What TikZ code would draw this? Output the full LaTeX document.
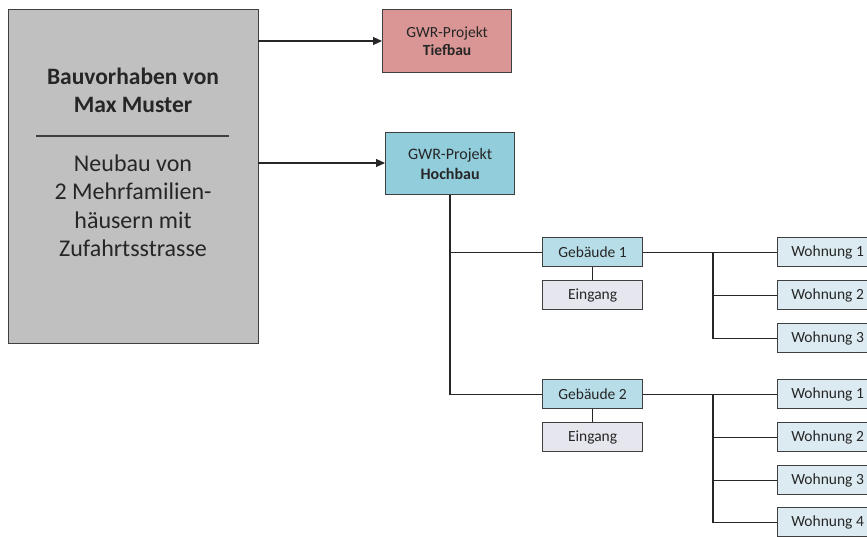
\documentclass[tikz,border=0pt]{standalone}
\usepackage{fontspec}
\setmainfont{Carlito}
\usetikzlibrary{arrows.meta}
\definecolor{bordc}{HTML}{3F3F3F}
\definecolor{txtc}{HTML}{262626}
\definecolor{mainfill}{HTML}{C0C0C0}
\definecolor{redfill}{HTML}{D99694}
\definecolor{hochfill}{HTML}{92CDDC}
\definecolor{gebfill}{HTML}{B7DEE8}
\definecolor{eingfill}{HTML}{E6E6EF}
\definecolor{wohnfill}{HTML}{DCEBF1}
\tikzset{
  x=1pt, y=-1pt,
  box/.style={draw=bordc, line width=1.2pt, text=txtc, inner sep=0pt, align=center},
  gwr/.style={box, minimum width=129pt, minimum height=62pt},
  small/.style={box, minimum width=100pt, minimum height=29pt, font=\fontsize{15.5}{18}\selectfont},
  wlabel/.style={font=\fontsize{15.5}{18}\selectfont, text=txtc},
  conn/.style={draw=black!85, line width=1.1pt},
  arr/.style={conn, -{Triangle[length=9pt,width=8pt]}}
}
\begin{document}
\begin{tikzpicture}
\clip (0,0) rectangle (867,536);
\fill[white] (0,0) rectangle (867,536);
% main box
\node[box, fill=mainfill, minimum width=250pt, minimum height=334pt, anchor=north west] (main) at (8,9) {};
\node[text=txtc, font=\fontsize{23.5}{28}\selectfont\bfseries, align=center] (title) at (133,90) {Bauvorhaben von\\Max Muster};
\coordinate (sepL) at (36,136);
\coordinate (sepR) at (229,136);
\draw[draw=bordc, line width=1.2pt] (sepL) -- (sepR);
\node[text=txtc, font=\fontsize{24}{28.5}\selectfont, align=center] (desc) at (133,206) {Neubau von\\2 Mehrfamilien-\\häusern mit\\Zufahrtsstrasse};
% GWR projects
\node[gwr, fill=redfill, minimum height=63pt, font=\fontsize{15.5}{18}\selectfont, anchor=north west] (tief) at (382,9) {GWR-Projekt\\\textbf{Tiefbau}};
\node[gwr, fill=hochfill, font=\fontsize{16}{20}\selectfont, anchor=north west] (hoch) at (385,132) {GWR-Projekt\\\textbf{Hochbau}};
\coordinate (a1) at (258,41);
\coordinate (a2) at (258,163);
\draw[arr] (a1) -- (a1 -| tief.west);
\draw[arr] (a2) -- (a2 -| hoch.west);
% buildings
\node[small, fill=gebfill, anchor=north west] (g1) at (542,237) {Gebäude 1};
\node[small, fill=eingfill, anchor=north west] (e1) at (542,280) {Eingang};
\node[small, fill=gebfill, anchor=north west] (g2) at (542,379) {Gebäude 2};
\node[small, fill=eingfill, anchor=north west] (e2) at (542,422) {Eingang};
\coordinate (hb) at (450,0);
\draw[conn] (hb |- hoch.south) -- (hb |- g2.west) -- (g2.west);
\draw[conn] (hb |- g1.west) -- (g1.west);
\draw[conn] (g1.south) -- (e1.north);
\draw[conn] (g2.south) -- (e2.north);
% apartments
\foreach \n/\y in {w11/237, w12/280, w13/323, w21/379, w22/422, w23/465, w24/507}{
  \node[small, fill=wohnfill, anchor=north west, minimum height=29pt] (\n) at (777,\y) {};
}
\node[wlabel] at (w11) {Wohnung 1};
\node[wlabel] at (w12) {Wohnung 2};
\node[wlabel] at (w13) {Wohnung 3};
\node[wlabel] at (w21) {Wohnung 1};
\node[wlabel] at (w22) {Wohnung 2};
\node[wlabel] at (w23) {Wohnung 3};
\node[wlabel] at (w24) {Wohnung 4};
\coordinate (b1) at (713,0);
\draw[conn] (g1.east) -- (w11.west);
\draw[conn] (b1 |- g1.east) -- (b1 |- w13.west) -- (w13.west);
\draw[conn] (b1 |- w12.west) -- (w12.west);
\draw[conn] (g2.east) -- (w21.west);
\draw[conn] (b1 |- g2.east) -- (b1 |- w24.west) -- (w24.west);
\draw[conn] (b1 |- w22.west) -- (w22.west);
\draw[conn] (b1 |- w23.west) -- (w23.west);
\end{tikzpicture}
\end{document}
